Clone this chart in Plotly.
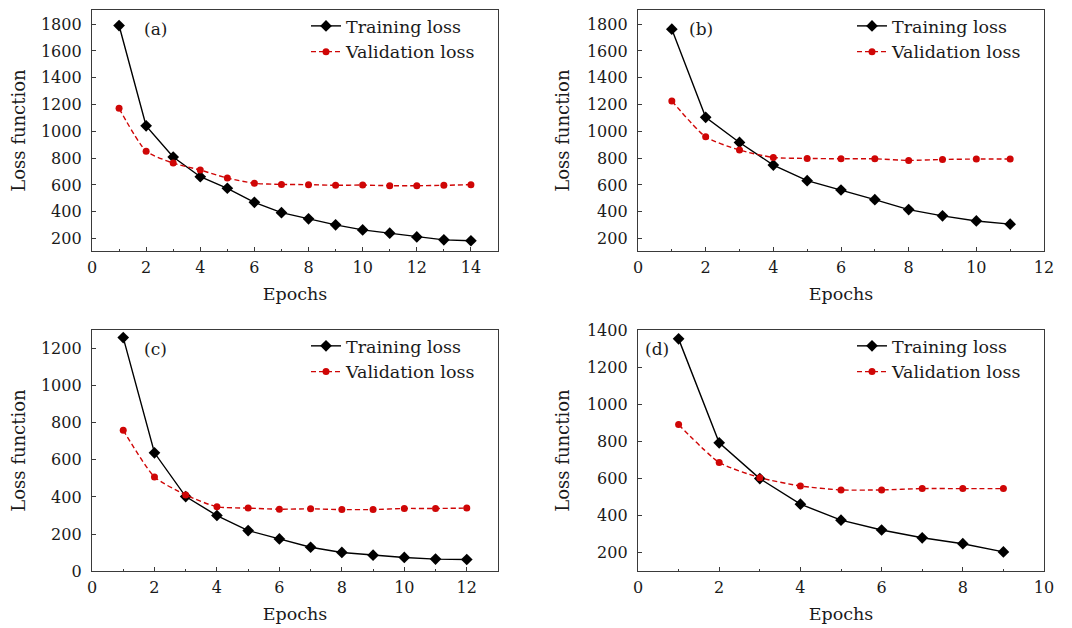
import plotly.graph_objects as go

# ---- data ----
epochs_a = list(range(1, 15))
train_a = [1790, 1041, 808, 661, 575, 470, 393, 347, 302, 264, 240, 212, 190, 183]
val_a = [1172, 852, 763, 711, 651, 612, 604, 602, 597, 599, 594, 594, 597, 602]

epochs_b = list(range(1, 12))
train_b = [1763, 1105, 917, 748, 632, 562, 490, 416, 369, 331, 307]
val_b = [1227, 959, 860, 805, 798, 795, 795, 783, 790, 793, 793]

epochs_c = list(range(1, 13))
train_c = [1259, 638, 402, 300, 219, 174, 129, 101, 86, 74, 65, 63]
val_c = [760, 508, 411, 347, 340, 334, 336, 332, 332, 338, 338, 340]

epochs_d = list(range(1, 10))
train_d = [1352, 792, 599, 461, 375, 322, 280, 248, 204]
val_d = [890, 686, 604, 559, 538, 538, 545, 545, 545]

panel_labels = ["(a)", "(b)", "(c)", "(d)"]
x_ranges = [[0, 15], [0, 12], [0, 13], [0, 10]]
y_ranges = [[105, 1906], [105, 1906], [0, 1300], [100, 1400]]
series_names = ["Training loss", "Validation loss"]
x_title = "Epochs"
y_title = "Loss function"

# page is 1072x628; the browser body has an 8px margin
OFF = 8
W, H = 1072 - 2 * OFF, 628 - OFF
FONT = "DejaVu Serif"
RED = "#cf0606"
AXC = "#3a3a3a"
TXT = "#1a1a1a"

panels = [
    (epochs_a, train_a, val_a),
    (epochs_b, train_b, val_b),
    (epochs_c, train_c, val_c),
    (epochs_d, train_d, val_d),
]

# target pixel boxes on the page (left, right, top, bottom)
boxes = [(92, 498, 8, 250), (638, 1044, 8, 250), (92, 498, 329, 571), (638, 1044, 329, 571)]


def px(xp):
    return (xp - OFF) / W


def py(yp):
    return 1 - (yp - OFF) / H


fig = go.Figure()
for i, ((ep, tr, va), box) in enumerate(zip(panels, boxes)):
    n = "" if i == 0 else str(i + 1)
    xa, ya = "x" + n, "y" + n
    lg = "legend" + n
    fig.add_trace(go.Scatter(
        x=ep, y=tr, name=series_names[0], xaxis=xa, yaxis=ya, legend=lg,
        mode="lines+markers",
        line=dict(color="black", width=1.4),
        marker=dict(symbol="diamond", size=9, color="black"),
    ))
    fig.add_trace(go.Scatter(
        x=ep, y=va, name=series_names[1], xaxis=xa, yaxis=ya, legend=lg,
        mode="lines+markers",
        line=dict(color=RED, width=1.4, dash="5px,3px", shape="spline", smoothing=0.6),
        marker=dict(symbol="circle", size=7, color=RED),
    ))
    l, r, t, b = box
    axcommon = dict(showline=True, linecolor=AXC, linewidth=1.3, mirror=True,
                    ticks="inside", ticklen=4, tickcolor=AXC, tickwidth=1,
                    showgrid=False, zeroline=False, automargin=False,
                    tickfont=dict(family=FONT, size=16, color=TXT))
    fig.layout["xaxis" + n] = dict(
        domain=[px(l), px(r)], range=x_ranges[i], dtick=2, anchor=ya,
        ticklabelstandoff=1,
        minor=dict(ticks="inside", dtick=1, ticklen=2.5, tickcolor=AXC),
        title=dict(text=x_title, font=dict(family=FONT, size=17.5, color=TXT), standoff=12),
        **axcommon)
    fig.layout["yaxis" + n] = dict(
        domain=[py(b), py(t)], range=y_ranges[i], dtick=200, anchor=xa,
        ticklabelstandoff=6,
        title=dict(text=y_title, font=dict(family=FONT, size=18, color=TXT), standoff=12),
        **axcommon)
    fig.layout[lg] = dict(
        x=px(l + 214), xanchor="left", y=py(t - 2), yanchor="top",
        bgcolor="rgba(0,0,0,0)", borderwidth=0,
        font=dict(family=FONT, size=17.5, color=TXT),
        itemwidth=30, tracegroupgap=0,
    )
    fig.add_annotation(
        text=panel_labels[i], xref="paper", yref="paper",
        x=px(l + (63 if i != 3 else 19)), y=py(t + 19),
        xanchor="center", yanchor="middle", showarrow=False,
        font=dict(family=FONT, size=17, color=TXT),
    )

fig.update_layout(
    width=W, height=H,
    margin=dict(l=0, r=0, t=0, b=0),
    paper_bgcolor="white", plot_bgcolor="white",
    showlegend=True,
)
fig.write_html("out.html")
